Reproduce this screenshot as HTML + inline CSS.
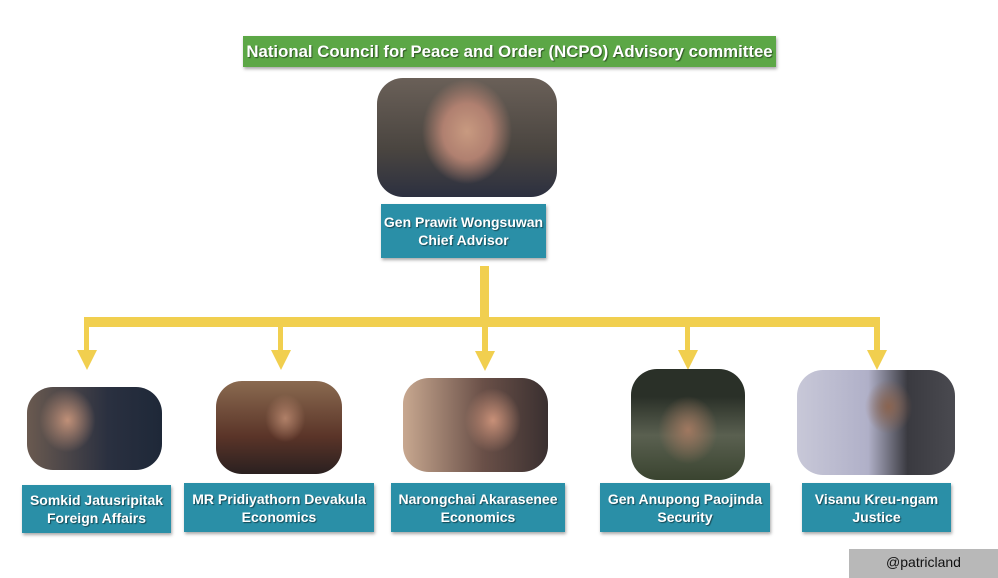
<!DOCTYPE html>
<html><head><meta charset="utf-8"><style>
body{margin:0;width:998px;height:578px;background:#fff;position:relative;overflow:hidden;font-family:"Liberation Sans",sans-serif}
.a{position:absolute}
.t{position:absolute;background:#2a8fa7;color:#fff;font-weight:bold;font-size:14px;line-height:18px;text-align:center;display:flex;align-items:center;justify-content:center;box-shadow:1px 2px 3px rgba(0,0,0,.35);text-shadow:1px 1px 1px rgba(0,0,0,.5)}
.p{position:absolute;border-radius:26px;overflow:hidden}
.y{position:absolute;background:#f1cf4f}
.ar{position:absolute;width:0;height:0;border-left:10px solid transparent;border-right:10px solid transparent;border-top:20px solid #f1cf4f}
</style></head><body>
<div class="t" style="left:243px;top:36px;width:533px;height:31px;background:#5ca746;font-size:16.8px">National Council for Peace and Order (NCPO) Advisory committee</div>
<div class="p" style="left:377px;top:78px;width:180px;height:119px;background:radial-gradient(ellipse 60px 70px at 50% 45%,#c89a80 0%,#b08070 40%,transparent 75%),linear-gradient(180deg,#6a6058,#4a4540 60%,#2c3040)"></div>
<div class="t" style="left:381px;top:204px;width:165px;height:54px">Gen Prawit Wongsuwan<br>Chief Advisor</div>
<div class="y" style="left:480px;top:266px;width:9px;height:54px"></div>
<div class="y" style="left:84px;top:317px;width:796px;height:10px"></div>
<div class="y" style="left:84px;top:320px;width:5px;height:32px"></div>
<div class="y" style="left:278px;top:320px;width:5px;height:32px"></div>
<div class="y" style="left:482px;top:320px;width:6px;height:32px"></div>
<div class="y" style="left:685px;top:320px;width:5px;height:32px"></div>
<div class="y" style="left:874px;top:320px;width:6px;height:32px"></div>
<div class="ar" style="left:77px;top:350px"></div>
<div class="ar" style="left:271px;top:350px"></div>
<div class="ar" style="left:475px;top:351px"></div>
<div class="ar" style="left:678px;top:350px"></div>
<div class="ar" style="left:867px;top:350px"></div>
<div class="p" style="left:27px;top:387px;width:135px;height:83px;background:radial-gradient(ellipse 35px 40px at 30% 40%,#c09078,transparent 80%),linear-gradient(90deg,#6a5a50,#2a3040 60%,#1e2838)"></div>
<div class="p" style="left:216px;top:381px;width:126px;height:93px;background:radial-gradient(ellipse 25px 30px at 55% 40%,#b08068,transparent 80%),linear-gradient(180deg,#8a6a50,#5a3428 60%,#2a2020)"></div>
<div class="p" style="left:403px;top:378px;width:145px;height:94px;background:radial-gradient(ellipse 35px 40px at 62% 45%,#c89078,transparent 80%),linear-gradient(90deg,#c8a890,#6a5048 55%,#3a3030)"></div>
<div class="p" style="left:631px;top:369px;width:114px;height:111px;background:radial-gradient(ellipse 35px 40px at 50% 55%,#a07860,transparent 85%),linear-gradient(180deg,#2a3028 25%,#5a6050 60%,#3a4430)"></div>
<div class="p" style="left:797px;top:370px;width:158px;height:105px;background:radial-gradient(ellipse 28px 32px at 58% 35%,#8a6450,transparent 85%),linear-gradient(90deg,#c8c8d8,#b0b0c8 45%,#3a3a40 70%,#4a4a50)"></div>
<div class="t" style="left:22px;top:485px;width:149px;height:48px">Somkid Jatusripitak<br>Foreign Affairs</div>
<div class="t" style="left:184px;top:483px;width:190px;height:49px">MR Pridiyathorn Devakula<br>Economics</div>
<div class="t" style="left:391px;top:483px;width:174px;height:49px">Narongchai Akarasenee<br>Economics</div>
<div class="t" style="left:600px;top:483px;width:170px;height:49px">Gen Anupong Paojinda<br>Security</div>
<div class="t" style="left:802px;top:483px;width:149px;height:49px">Visanu Kreu-ngam<br>Justice</div>
<div class="a" style="left:849px;top:549px;width:149px;height:29px;background:#b8b8b8;color:#111;font-size:14px;text-align:center;line-height:27px">@patricland</div>
</body></html>
